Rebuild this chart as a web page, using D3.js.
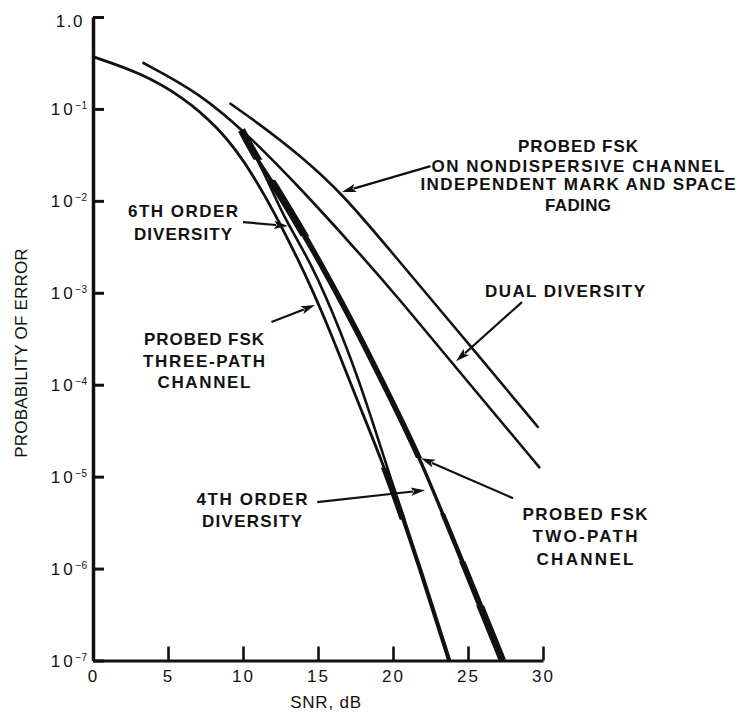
<!DOCTYPE html>
<html>
<head>
<meta charset="utf-8">
<script src="https://cdn.jsdelivr.net/npm/d3@7"></script>
<style>
  html, body { margin: 0; padding: 0; background: #fff; }
  svg { display: block; font-family: "Liberation Sans", Arial, Helvetica, sans-serif; }
</style>
</head>
<body>
<svg id="chart" width="740" height="713"></svg>
<script>
// ---- axis ticks ----
const snrTicks = [0, 5, 10, 15, 20, 25, 30];
const errTicks = [1e-7, 1e-6, 1e-5, 1e-4, 1e-3, 1e-2, 1e-1, 1];

// ---- error-rate curves (SNR in dB, probability of error) ----
const threePathSNR = [0, 3.1, 6.0, 8.3, 10.5, 13.8, 15.8, 17.6, 19.7, 21.8, 23.7];
const threePathP   = [0.37, 0.25, 0.135, 0.064, 0.023, 2.2e-3, 3.9e-4, 6.8e-5, 1.0e-5, 9.6e-7, 1e-7];

const sixthOrderSNR = [10.2, 11.5, 12.8, 14.5, 16.5, 18.2, 19.8, 21.9, 23.8];
const sixthOrderP   = [0.048, 0.019, 6.2e-3, 2.2e-3, 3.9e-4, 6.8e-5, 9.9e-6, 9.6e-7, 1e-7];

const twoPathSNR = [9.9, 10.9, 11.9, 14.0, 15.1, 17.6, 19.9, 21.8, 24.3, 27.3];
const twoPathP   = [0.059, 0.029, 0.0168, 4.5e-3, 2.2e-3, 3.9e-4, 6.8e-5, 1.6e-5, 1.6e-6, 1e-7];

const dualSNR = [3.3, 7.1, 10.5, 13.8, 17.1, 20.5, 25.1, 29.8];
const dualP   = [0.32, 0.15, 0.0495, 0.0138, 3.56e-3, 8.3e-4, 1.02e-4, 1.24e-5];

const nondispSNR = [9.1, 10.8, 13.8, 16.7, 19.8, 24.5, 29.7];
const nondispP   = [0.116, 0.074, 0.0315, 0.0116, 2.9e-3, 3.55e-4, 3.4e-5];

// ---- layout ----
const svg = d3.select("#chart");
const x = d3.scaleLinear().domain([0, 30]).range([93, 543]);
const y = d3.scaleLog().domain([1e-7, 1]).range([660.5, 17]);
const ink = "#111";

const toPts = (s, p) => s.map((v, i) => [v, p[i]]);
const line = d3.line()
  .x(d => x(d[0]))
  .y(d => y(d[1]))
  .curve(d3.curveBasis);

// base stroke width plus heavier stretches (given as probability bands)
const curves = [
  { id: "threePath", pts: toPts(threePathSNR, threePathP), w: 2.8, heavy: [[1.25e-5, 3.4e-6, 6]] },
  { id: "sixthOrder", pts: toPts(sixthOrderSNR, sixthOrderP), w: 2.6, heavy: [] },
  { id: "twoPath", pts: toPts(twoPathSNR, twoPathP), w: 3.4,
    heavy: [[0.065, 0.028, 7.5], [0.0170, 4.1e-3, 7.5], [4.1e-3, 1.6e-5, 5.6],
            [4e-6, 1.2e-6, 4.6], [1.2e-6, 4e-7, 5.9], [4e-7, 1e-7, 7.3]] },
  { id: "dual", pts: toPts(dualSNR, dualP), w: 2.6, heavy: [] },
  { id: "nondisp", pts: toPts(nondispSNR, nondispP), w: 2.6, heavy: [] }
];

const defs = svg.append("defs");
const gCurves = svg.append("g").attr("fill", "none").attr("stroke", ink);

curves.forEach(c => {
  const d = line(c.pts);
  gCurves.append("path").attr("d", d).attr("stroke-width", c.w);
  c.heavy.forEach((h, i) => {
    const cid = `clip-${c.id}-${i}`;
    defs.append("clipPath").attr("id", cid)
      .append("rect")
      .attr("x", 0).attr("width", 740)
      .attr("y", y(h[0])).attr("height", y(h[1]) - y(h[0]));
    gCurves.append("path").attr("d", d)
      .attr("stroke-width", h[2])
      .attr("clip-path", `url(#${cid})`);
  });
});

// ---- axes ----
const yAxis = d3.axisLeft(y)
  .tickValues(errTicks)
  .tickSizeInner(-11)
  .tickSizeOuter(0)
  .tickPadding(6);

const gy = svg.append("g").attr("transform", `translate(${x(0)},0)`).call(yAxis);
gy.select(".domain").attr("stroke", ink).attr("stroke-width", 3.5);
gy.selectAll(".tick line").attr("stroke", ink).attr("stroke-width", 3);
gy.selectAll(".tick text")
  .attr("fill", ink)
  .attr("font-size", 17)
  .attr("font-family", "'Liberation Sans', Arial, sans-serif")
  .each(function (v) {
    const t = d3.select(this).text(null);
    const e = Math.round(Math.log10(v));
    if (e === 0) {
      t.attr("dy", "0.55em").attr("letter-spacing", 1.5).attr("x", -9).text("1.0");
    } else {
      t.attr("dy", "0.35em");
      t.append("tspan").attr("letter-spacing", 3).text("10");
      t.append("tspan").attr("font-size", 10).attr("dy", -6).text("−" + (-e));
    }
  });

const xAxis = d3.axisBottom(x)
  .tickValues(snrTicks)
  .tickSizeInner(-14)
  .tickSizeOuter(0)
  .tickPadding(9);

const gx = svg.append("g").attr("transform", `translate(0,${y(1e-7)})`).call(xAxis);
gx.select(".domain").attr("stroke", ink).attr("stroke-width", 3);
gx.selectAll(".tick line").attr("stroke", ink).attr("stroke-width", 2.6);
gx.selectAll(".tick text")
  .attr("fill", ink)
  .attr("font-size", 17)
  .attr("letter-spacing", 2)
  .attr("font-family", "'Liberation Sans', Arial, sans-serif");

// axis titles
svg.append("text")
  .attr("x", 326).attr("y", 708)
  .attr("text-anchor", "middle")
  .attr("font-size", 17).attr("letter-spacing", 0.8)
  .attr("fill", ink)
  .text("SNR, dB");

svg.append("text")
  .attr("transform", "translate(27,353) rotate(-90)")
  .attr("text-anchor", "middle")
  .attr("font-size", 17).attr("letter-spacing", 0.2)
  .attr("fill", ink)
  .text("PROBABILITY OF ERROR");

// ---- annotations ----
const labels = [
  { cx: 578, lines: [["PROBED FSK", 152, 120], ["ON NONDISPERSIVE CHANNEL", 172, 293], ["INDEPENDENT MARK AND SPACE", 190, 315], ["FADING", 211, 66]] },
  { cx: 183, lines: [["6TH ORDER", 217, 110], ["DIVERSITY", 240, 98]] },
  { cx: 204, lines: [["PROBED FSK", 345, 120], ["THREE-PATH", 367, 122], ["CHANNEL", 388, 93]] },
  { cx: 252, lines: [["4TH ORDER", 505, 111], ["DIVERSITY", 527, 100]] },
  { cx: 565, lines: [["DUAL DIVERSITY", 297, 160]] },
  { cx: 585, lines: [["PROBED FSK", 520, 125], ["TWO-PATH", 542, 105], ["CHANNEL", 565, 97]] }
];

const gLab = svg.append("g").attr("fill", ink).attr("font-size", 17).attr("font-weight", "bold");
labels.forEach(l => {
  l.lines.forEach(([txt, by, w]) => {
    gLab.append("text")
      .attr("x", l.cx).attr("y", by)
      .attr("text-anchor", "middle")
      .attr("textLength", w)
      .attr("lengthAdjust", "spacing")
      .text(txt);
  });
});

// leader arrows: tail and tip in (SNR, probability)
const arrows = [
  { from: [22.5, 0.0239], to: [16.6, 0.0125] },
  { from: [10.0, 5.88e-3], to: [13.0, 5.32e-3] },
  { from: [11.9, 4.8e-4], to: [14.8, 7.35e-4] },
  { from: [14.95, 5.28e-6], to: [22.13, 7.13e-6] },
  { from: [28.6, 7.92e-4], to: [24.2, 1.8e-4] },
  { from: [28.0, 5.83e-6], to: [21.87, 1.59e-5] }
];

const gArr = svg.append("g");
arrows.forEach(a => {
  const x0 = x(a.from[0]), y0 = y(a.from[1]);
  const x1 = x(a.to[0]), y1 = y(a.to[1]);
  const dx = x1 - x0, dy = y1 - y0, len = Math.hypot(dx, dy);
  const ux = dx / len, uy = dy / len, nx = -uy, ny = ux;
  const L = 14, W = 4.2;
  const bx = x1 - ux * L, by = y1 - uy * L;
  gArr.append("line")
    .attr("x1", x0).attr("y1", y0)
    .attr("x2", bx + ux * 2).attr("y2", by + uy * 2)
    .attr("stroke", ink).attr("stroke-width", 2.2);
  gArr.append("polygon")
    .attr("points", [[x1, y1], [bx + nx * W, by + ny * W], [bx + ux * 3, by + uy * 3], [bx - nx * W, by - ny * W]].map(p => p.join(",")).join(" "))
    .attr("fill", ink);
});
</script>
</body>
</html>
